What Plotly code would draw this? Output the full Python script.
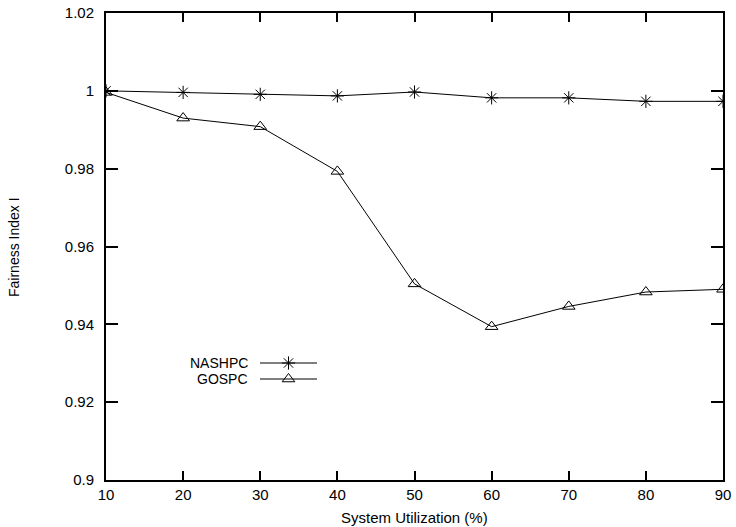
import plotly.graph_objects as go

# System utilization levels (%)
utilization = [10, 20, 30, 40, 50, 60, 70, 80, 90]

# Fairness index for each scheme
nashpc = [1.0000, 0.9996, 0.9991, 0.9987, 0.9997, 0.9982, 0.9982, 0.9973, 0.9973]
gospc = [0.9996, 0.9930, 0.9908, 0.9793, 0.9504, 0.9394, 0.9446, 0.9483, 0.9490]

series = [
    ("NASHPC", nashpc, "asterisk-open"),
    ("GOSPC", gospc, "triangle-up-open"),
]

y_ticks = [0.9, 0.92, 0.94, 0.96, 0.98, 1.0, 1.02]
y_ticktext = ["0.9", "0.92", "0.94", "0.96", "0.98", "1", "1.02"]
x_ticks = [10, 20, 30, 40, 50, 60, 70, 80, 90]

W, H = 736, 527
L, R, T, B = 106, 13, 13, 47
FONT = "Liberation Sans, Arial, sans-serif"

fig = go.Figure()

for name, vals, sym in series:
    fig.add_trace(go.Scatter(
        x=utilization, y=vals, mode="lines+markers", name=name,
        line=dict(color="black", width=1),
        marker=dict(symbol=sym, size=11, color="black",
                    line=dict(color="black", width=1)),
        showlegend=False,
    ))

# Key placed inside the plot, text left of the sample line (pixel-like overlay axes)
key_y = [363, 379]
for (name, vals, sym), ky in zip(series, key_y):
    fig.add_trace(go.Scatter(
        x=[260, 317], y=[ky, ky], xaxis="x2", yaxis="y2", mode="lines",
        line=dict(color="black", width=1), showlegend=False, hoverinfo="skip",
    ))
    fig.add_trace(go.Scatter(
        x=[288.5], y=[ky], xaxis="x2", yaxis="y2", mode="markers",
        marker=dict(symbol=sym, size=11, color="black",
                    line=dict(color="black", width=1)),
        showlegend=False, hoverinfo="skip",
    ))
    fig.add_annotation(
        x=250, y=ky, xref="x2", yref="y2", text=name, showarrow=False,
        xanchor="right", yanchor="middle",
        font=dict(family=FONT, size=14, color="black"),
    )

axis_common = dict(
    showline=True, linecolor="black", linewidth=2, mirror="ticks",
    ticks="inside", tickcolor="black", tickwidth=2,
    showgrid=False, zeroline=False, automargin=False,
    tickfont=dict(family=FONT, size=15, color="black"),
)

fig.update_layout(
    width=W, height=H,
    margin=dict(l=L, r=R, t=T, b=B),
    paper_bgcolor="white", plot_bgcolor="white",
    xaxis=dict(range=[10, 90], tickvals=x_ticks, ticklen=9, **axis_common),
    yaxis=dict(range=[0.9, 1.02], tickvals=y_ticks, ticktext=y_ticktext,
               ticklen=12, ticklabelstandoff=7, **axis_common),
    xaxis2=dict(range=[L, W - R], overlaying="x", visible=False),
    yaxis2=dict(range=[H - B, T], overlaying="y", visible=False),
)

plot_w = W - L - R
plot_h = H - T - B
fig.add_annotation(
    x=0.5, y=-(517 - (H - B)) / plot_h, xref="paper", yref="paper",
    text="System Utilization (%)", showarrow=False,
    xanchor="center", yanchor="middle",
    font=dict(family=FONT, size=15, color="black"),
)
fig.add_annotation(
    x=(14 - L) / plot_w, y=(H - B - 247) / plot_h, xref="paper", yref="paper",
    text="Fairness Index I", showarrow=False, textangle=-90,
    xanchor="center", yanchor="middle",
    font=dict(family=FONT, size=14, color="black"),
)

fig.write_html("out.html")
